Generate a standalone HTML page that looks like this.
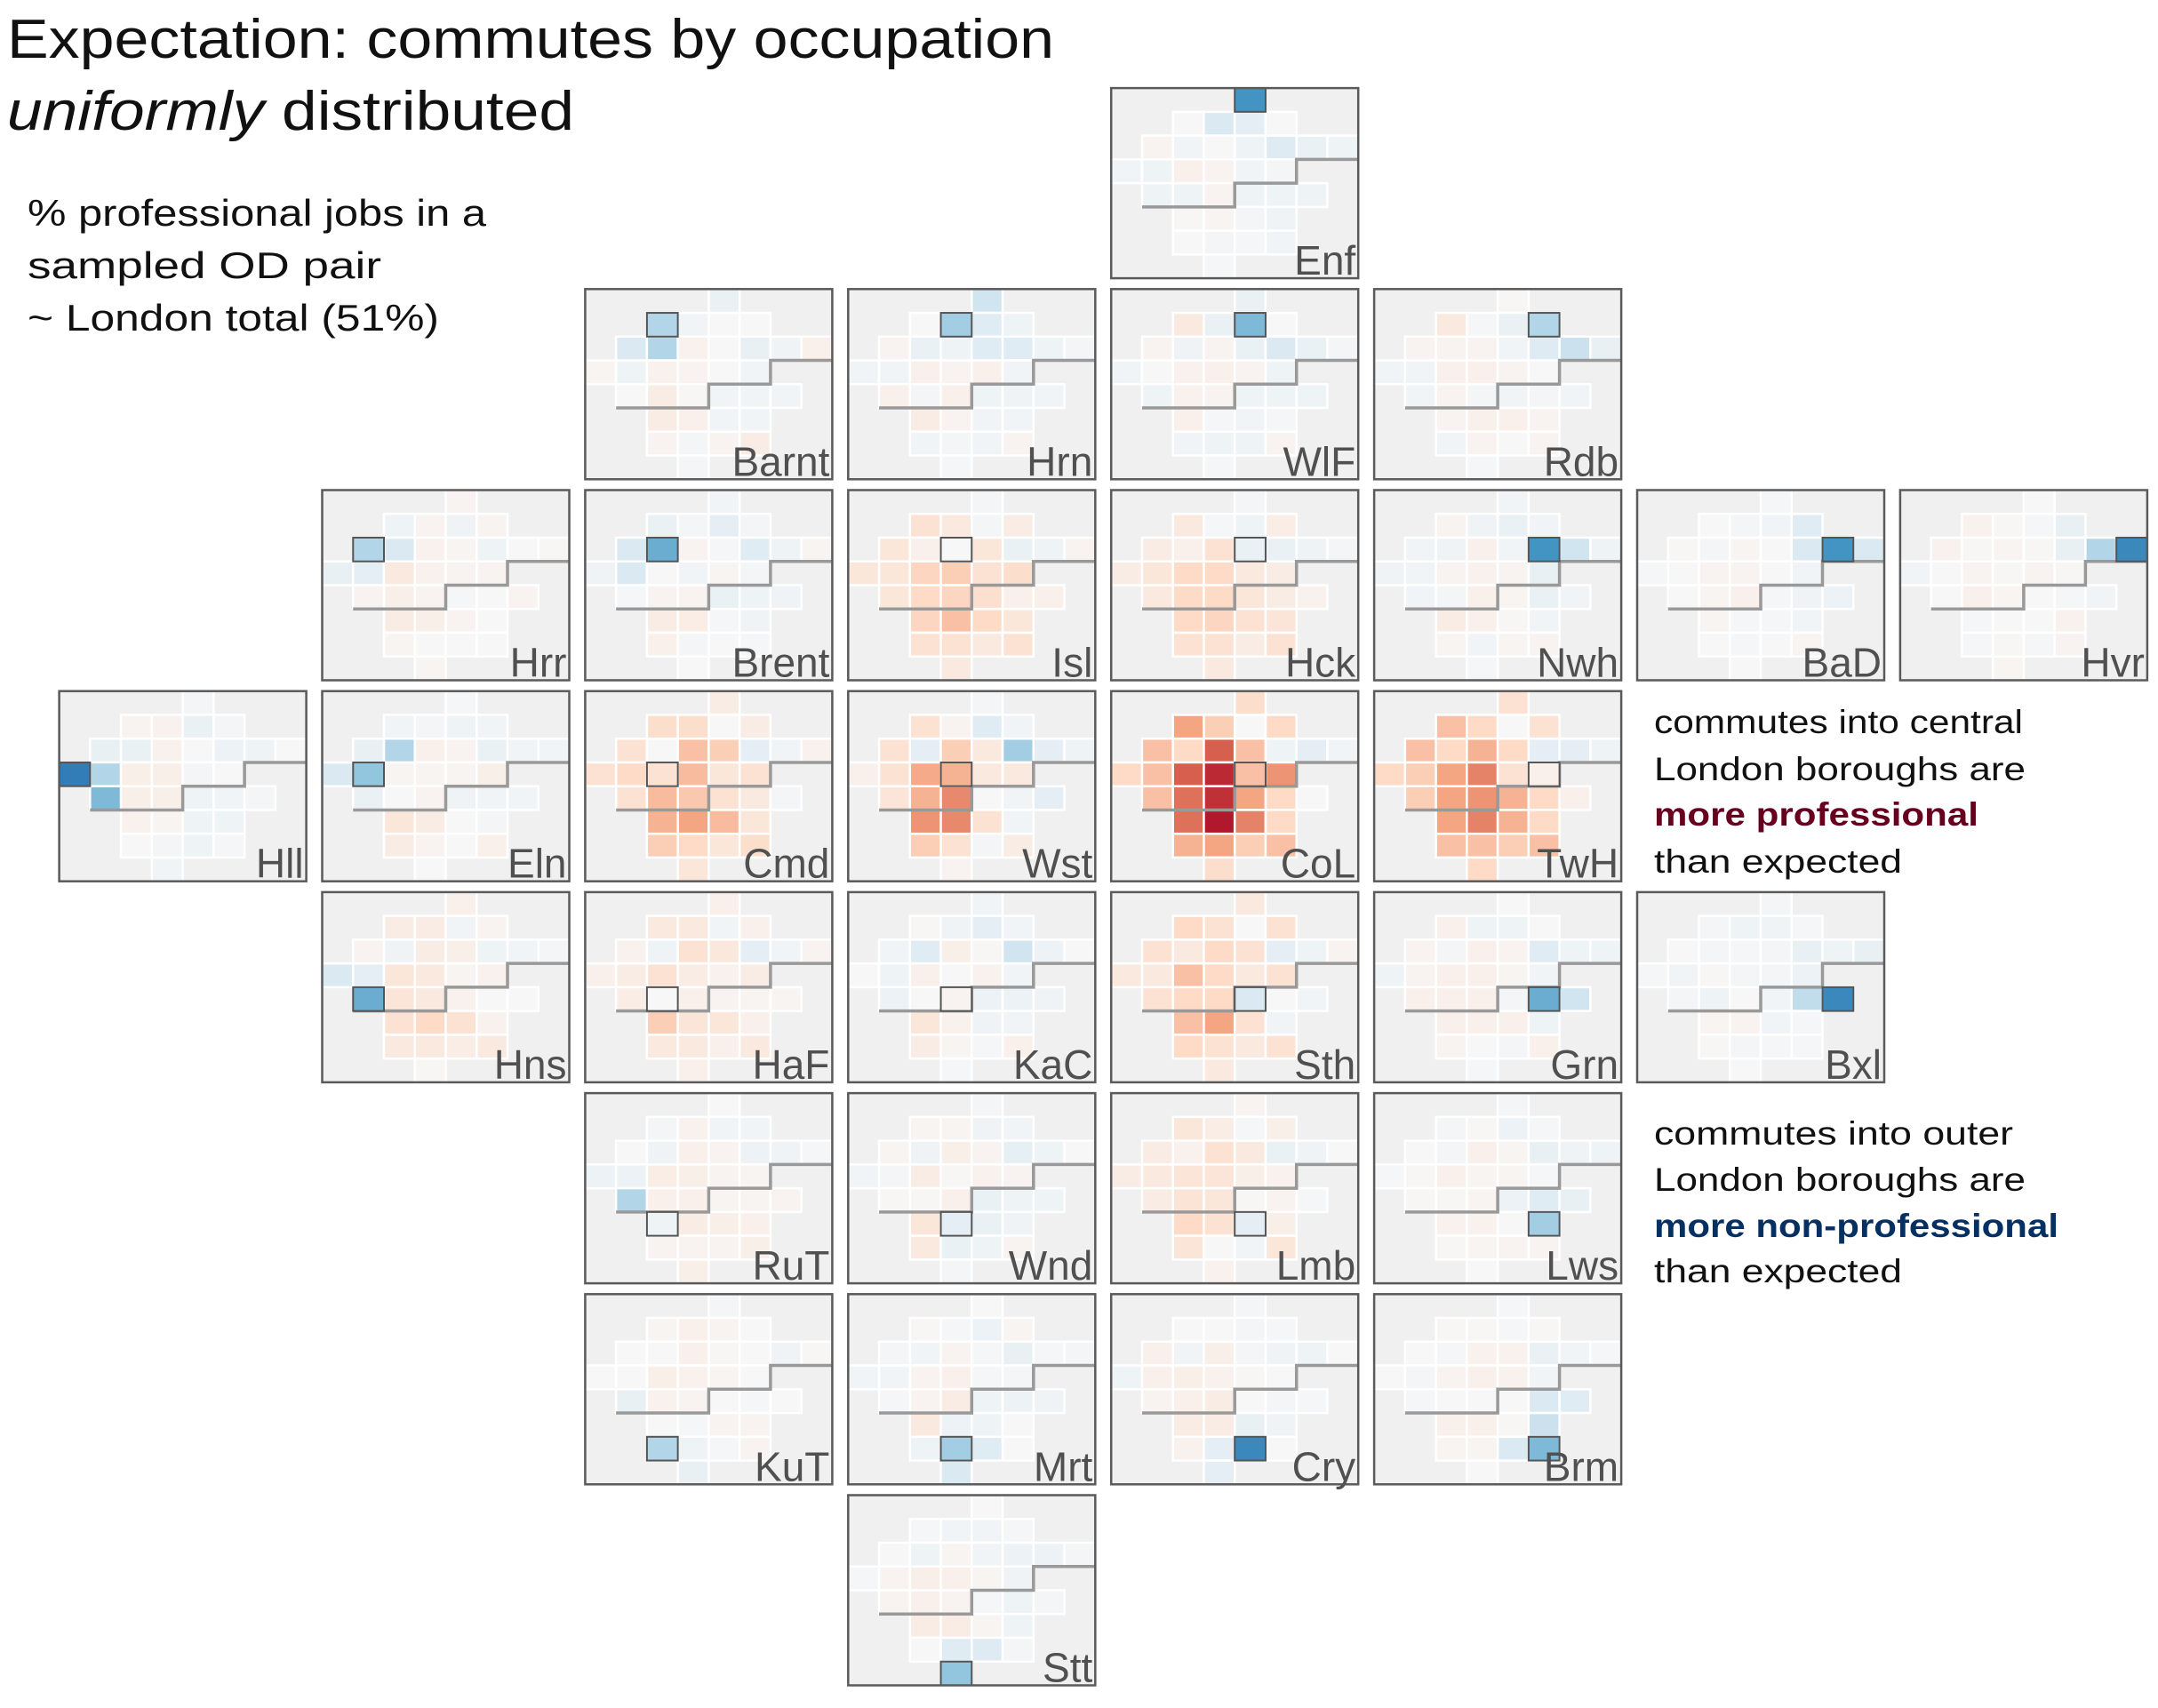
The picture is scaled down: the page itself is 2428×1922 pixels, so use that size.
<!DOCTYPE html>
<html><head><meta charset="utf-8">
<style>
html,body{margin:0;padding:0;background:#fff;}
svg{display:block;font-family:"Liberation Sans",sans-serif;}
</style></head>
<body>
<svg id="chart" width="2428" height="1922" viewBox="0 0 2428 1922" xmlns="http://www.w3.org/2000/svg">
<rect width="2428" height="1922" fill="#fff"/>
<text x="8" y="65" font-size="62" fill="#111" textLength="1178" lengthAdjust="spacingAndGlyphs">Expectation: commutes by occupation</text>
<text x="8" y="146" font-size="62" fill="#111" textLength="638" lengthAdjust="spacingAndGlyphs"><tspan font-style="italic">uniformly</tspan> distributed</text>
<text x="31" y="254" font-size="42" fill="#111" textLength="516" lengthAdjust="spacingAndGlyphs">% professional jobs in a</text>
<text x="31" y="313" font-size="42" fill="#111" textLength="398" lengthAdjust="spacingAndGlyphs">sampled OD pair</text>
<text x="31" y="372" font-size="42" fill="#111" textLength="463" lengthAdjust="spacingAndGlyphs">~ London total (51%)</text>
<g font-size="37">
<text x="1861" y="825" fill="#111" textLength="415" lengthAdjust="spacingAndGlyphs">commutes into central</text>
<text x="1861" y="878" fill="#111" textLength="418" lengthAdjust="spacingAndGlyphs">London boroughs are</text>
<text x="1861" y="929" fill="#67001f" font-weight="bold" textLength="365" lengthAdjust="spacingAndGlyphs">more professional</text>
<text x="1861" y="982" fill="#111" textLength="279" lengthAdjust="spacingAndGlyphs">than expected</text>
</g>
<g font-size="37">
<text x="1861" y="1288" fill="#111" textLength="404" lengthAdjust="spacingAndGlyphs">commutes into outer</text>
<text x="1861" y="1340" fill="#111" textLength="418" lengthAdjust="spacingAndGlyphs">London boroughs are</text>
<text x="1861" y="1392" fill="#053061" font-weight="bold" textLength="455" lengthAdjust="spacingAndGlyphs">more non-professional</text>
<text x="1861" y="1443" fill="#111" textLength="279" lengthAdjust="spacingAndGlyphs">than expected</text>
</g>
<g id="panels"></g>
</svg>
<script>
// Borough order and grid layout
const boroughs = ["Enf","Barnt","Hrn","WlF","Rdb","Hrr","Brent","Isl","Hck","Nwh","BaD","Hvr","Hll","Eln","Cmd","Wst","CoL","TwH","Hns","HaF","KaC","Sth","Grn","Bxl","RuT","Wnd","Lmb","Lws","KuT","Mrt","Cry","Brm","Stt"];
const gridCol = [4,2,3,4,5,1,2,3,4,5,6,7,0,1,2,3,4,5,1,2,3,4,5,6,2,3,4,5,2,3,4,5,3];
const gridRow = [0,1,1,1,1,2,2,2,2,2,2,2,3,3,3,3,3,3,4,4,4,4,4,4,5,5,5,5,6,6,6,6,7];
// Values per destination panel (deviation from London total; + = more professional)
const vEnf  =[-6,0,-1.5,-1,0,0.3,-0.3,0,-0.5,-1.3,-0.7,-0.5,-0.3,-0.5,0.5,0.3,-0.3,-0.2,-0.5,-0.5,0.3,-0.5,-0.5,-0.5,0.1,0.2,-0.2,-0.4,0,-0.2,-0.1,-0.3,-0.1];
const vBarnt=[-0.7,-3,-0.3,0,0,-1.5,-3,0.4,0,-0.8,-0.4,0.5,0.2,-0.5,0.4,0.3,0,-0.3,0,0.8,0.1,-0.3,-0.3,-0.3,0.8,0.5,-0.3,-0.3,0.3,-0.2,0.3,0.8,-0.2];
const vHrn  =[-2,0,-3.5,-1.2,-0.5,0.3,-0.7,-0.5,-1.2,-1.2,-0.5,-0.2,-0.3,-0.3,0.5,0.3,0.5,-0.3,0.5,-0.2,0.5,-0.5,-0.4,-0.3,0.8,0.3,-0.3,-0.3,-0.3,-0.2,-0.3,0.3,-0.1];
const vWlF  =[-0.7,1,-0.7,-4.5,0,0.3,-0.4,0.3,-0.7,-1.5,-0.7,-0.2,-0.3,0,0.4,0.5,0.3,-0.5,-0.5,0.4,0.3,-0.5,-0.5,-0.5,0.5,-0.1,-0.3,-0.1,-0.3,-0.5,-0.5,0.3,-0.1];
const vRdb  =[0.1,1,-0.1,-0.7,-3,0.3,0.3,0.3,-0.3,-1.3,-2.2,-0.8,-0.3,-0.3,0.5,0.5,0.3,0,-0.3,0.3,-0.2,-0.3,-0.2,-0.3,0.3,0.5,0.5,0.3,-0.3,0.3,0,0.3,-0.1];
const vHrr  =[0.3,-0.5,0.3,-0.4,0.3,-3,-1.5,0.4,0.2,-0.5,0,0.1,-0.8,-1,1,0.4,0.3,0.3,0.3,0.6,0.3,-0.1,0,0.3,0.8,0.6,0.3,0,0.2,0,0,0,0.2];
const vBrent=[-0.3,-0.7,-0.2,-1,-0.2,-1.5,-5,0.3,-0.1,-1.2,-0.5,0.2,-0.4,-1.5,0,-0.3,0.2,-0.2,-0.1,0.3,0.3,-0.7,-0.5,-0.4,0.8,0.7,-0.1,-0.4,0.5,-0.2,0,-0.1,0];
const vIsl  =[-0.2,1.5,1,-0.2,0.8,1.2,0.5,0,1.2,-0.7,-0.5,0.3,1.2,1.2,2.2,2.5,1.5,1.8,1.2,2,2.2,1.7,0.5,0.5,2.2,3,2,1.2,1.5,1.5,1,1.5,1];
const vHck  =[-0.2,1,-0.1,-0.5,0.7,0.8,0.5,1.5,-0.7,-0.7,-0.5,-0.2,0.8,1.2,2,2,1,0.8,1,2,2,1.2,0.8,0.4,2,2.2,1.5,1.3,1.5,1.5,0.8,1.5,1];
const vNwh  =[-0.3,0.3,-0.4,-0.7,-0.3,-0.3,-0.4,0.5,-0.3,-6,-2,-0.5,-0.4,-0.3,0.3,0.4,0.3,-0.8,-0.3,-0.2,0.5,0.2,-0.7,-0.3,0.8,0.5,0.1,-0.3,0.2,-0.3,0.2,0.3,-0.1];
const vBaD  =[-0.1,0,-0.2,-0.3,-1.2,0.1,-0.2,0.2,0,-1.5,-6,-1.5,-0.1,0,0.3,0.3,0,-0.3,0,0.2,0.5,-0.1,-0.4,-0.6,0.2,-0.1,-0.1,-0.3,0,-0.1,0,0.2,0];
const vHvr  =[0,0.4,0.1,-0.1,-0.8,0.4,0.1,0.2,0.1,-0.8,-3,-6.5,-0.3,0,0.3,0.1,0.3,0.1,0,0.5,0.2,0,-0.1,-0.3,-0.1,0,0,0.4,-0.1,0.1,-0.1,0.3,0.2];
const vHll  =[-0.2,0.3,0.4,-0.7,-0.2,-0.8,-0.7,0.4,0,-0.6,-0.5,0,-7,-3,0.6,0.6,-0.2,0,-4.5,0.6,0.6,-0.5,-0.3,-0.2,0.4,0.2,-0.5,-0.5,0,-0.2,-0.5,-0.1,-0.3];
const vEln  =[-0.1,-0.3,-0.2,-0.5,-0.3,-0.8,-3,0.5,0.3,-0.7,-0.3,-0.3,-1.5,-4,0.2,0.2,0.2,0.6,-0.7,0,0.3,-0.4,-0.3,-0.3,1.2,0.8,0,-0.2,0.8,0.3,0,0.5,0];
const vCmd  =[0.8,1.8,1.8,0,0.8,1.5,0,3,2.5,-1,-0.3,0.4,1.5,2,1.5,3.2,1.2,1.5,1.5,3.2,2.7,1.5,1,-0.2,3.5,4,3.2,1.2,2.5,2,1.2,1.8,1.2];
const vWst  =[-0.2,1.5,0.3,-1.2,-0.3,1.5,-1,2.5,1,-3.5,-1,-0.5,0.5,1.5,3.8,3.5,1,1,1.3,3.5,4.8,0,-0.3,-1,4.5,4.8,1.5,-0.3,2.5,1.5,-0.2,0.8,0.3];
const vCoL  =[1.8,4,2.5,0,2,3,2,6,3,-0.5,-1,-0.3,2,3,6,7.5,3,4.5,3,5.5,7.3,4,2,0,5.5,8,5,2,3.5,4,2.5,3,1.8];
const vTwH  =[1.5,3,2,0,1.5,3,2,3.5,2,-1,-1,-0.5,2,2.5,4,5,1.5,0.5,2.5,4,4.5,3.5,2,0.5,4,5,3.5,2,3,3,2.5,3,2];
const vHns  =[0.5,0.8,0.8,-0.3,0.3,0.3,-0.4,0.8,0.6,-0.5,-0.3,-0.2,-1.5,-1,1.2,1,0.2,0.4,-5,1.3,1,0.4,0,0,1.5,2,1.5,0.4,1,1,0.7,1,0.1];
const vHaF  =[0.5,1,1,-0.3,0.5,0.4,-0.5,1.5,1.1,-1,-0.3,0.3,0.5,0.8,1.5,0.8,0.4,0.8,0.7,0,0.5,0.3,0.2,0.2,2.5,1.3,1.2,0.5,1,1,0.5,1,0.5];
const vKaC  =[-0.3,0.1,-0.4,-1,-0.3,-0.3,-1.2,0.6,0.1,-2,-0.6,0,0,-0.5,0.5,0,0.4,-0.3,-0.6,0,0.3,-0.6,-0.6,-0.4,1.2,0.4,-0.4,-0.3,0.8,0.2,-0.1,0.5,-0.1];
const vSth  =[1,2,1.5,0,1.5,1.5,1,2,1.5,-1,-0.5,0.3,1,1,3,2,1,1.5,1.5,2,2,-1.5,0,-0.3,3,4,1.5,-0.3,2,1.5,1,1.5,1];
const vGrn  =[0,0.5,-0.5,-0.5,0,0.3,-0.2,0.5,0.3,-1.2,-0.5,-0.5,-0.5,0.3,0.5,0.5,0.2,-0.3,0.5,0.5,0.5,-0.2,-5,-2,0.5,0.5,0.5,-0.5,0.3,0,-0.2,0.5,-0.1];
const vBxl  =[-0.2,-0.2,-0.5,-0.4,-0.1,0,-0.2,-0.1,-0.2,-0.8,-0.5,-0.8,-0.1,-0.3,0.1,-0.2,-0.2,-0.6,-0.2,-0.5,0,-0.3,-2.5,-6.5,0.2,0.3,-0.3,-0.1,0.1,-0.2,-0.1,-0.1,0];
const vRuT  =[0,-0.2,0.4,-0.3,-0.3,0,-0.4,0.5,0.3,-0.6,-0.4,-0.1,-0.6,-0.6,0.7,0.6,0.3,0.2,-3,0.5,0.5,0.2,0.2,0.3,-0.5,0.8,0.6,0.5,0.3,0.3,0.3,0.6,0.6];
const vWnd  =[-0.2,0.2,0.2,-0.4,-0.3,0.2,-0.4,0.6,0.3,-0.9,-0.5,0,-0.3,-0.2,0.8,0.1,0.4,0.3,0.1,0.1,0.5,-0.7,-0.5,-0.5,1.2,-1,-0.7,-0.4,1,-0.7,-0.5,0.3,-0.2];
const vLmb  =[0.3,1.2,0.7,-0.1,0.6,0.8,0.4,1.5,1,-0.7,-0.4,0,0.8,1,1.3,1.3,0.6,0.4,0.8,1.4,1.2,0.1,0.3,-0.1,2,1.5,-1,0.6,1.3,0,-0.3,1.2,0.4];
const vLws  =[-0.2,-0.2,0.1,-0.6,-0.1,0,-0.2,0.5,0.2,-0.8,-0.4,-0.5,-0.1,0.1,0.5,0.2,0.2,-0.1,0.1,0.1,0.2,-0.6,-1.2,-0.8,0.4,0.4,0,-3.5,0.1,0.2,0.3,0.3,0];
const vKuT  =[-0.2,0.2,0.5,0.3,0,0,0,0.5,0.1,0,-0.4,0.1,0,0,0.6,0.4,0.2,0,-0.8,0.4,0.3,0,-0.1,0,0,-0.1,0.3,0.3,-3,-0.5,-0.1,0.3,-0.8];
const vMrt  =[0,0.1,-0.1,-0.6,0.2,-0.2,-0.3,0.3,-0.1,-0.8,-0.1,-0.2,-0.3,-0.3,0.3,0.5,-0.1,-0.2,-0.1,0.3,0.8,-0.5,-0.6,-0.4,1,-0.6,-0.5,0,-0.5,-3.5,-1.2,0,-1.5];
const vCry  =[-0.2,0,0,-0.2,-0.1,0.5,-0.3,0.6,-0.2,-0.4,-0.5,0,-0.5,0.5,0.6,0.4,0.1,0,0.3,0.5,0.8,0,-0.2,-0.1,0.8,0.8,-0.8,-0.4,0.4,-1,-6.5,0,-1];
const vBrm  =[-0.1,0.1,0.1,-0.1,0.1,0,-0.1,0.4,0.4,-0.7,-0.3,-0.1,0,-0.2,0.3,0.5,0.4,-0.3,-0.1,0,0,0,-1.5,-1.2,0.5,0.5,0.1,-2.2,0.2,0.2,-1.5,-4.5,0];
const vStt  =[0,-0.1,-0.3,-0.3,-0.1,0,-0.5,0.2,-0.3,-0.6,-0.6,-0.2,-0.1,0.3,0.6,0.5,0.2,-0.4,0.3,0.5,0.3,-0.1,-0.5,-0.2,0.8,0.8,0.2,-0.5,0,-1.2,-1.3,-0.2,-4];
const panelValues = [vEnf,vBarnt,vHrn,vWlF,vRdb,vHrr,vBrent,vIsl,vHck,vNwh,vBaD,vHvr,vHll,vEln,vCmd,vWst,vCoL,vTwH,vHns,vHaF,vKaC,vSth,vGrn,vBxl,vRuT,vWnd,vLmb,vLws,vKuT,vMrt,vCry,vBrm,vStt];

const NS = "http://www.w3.org/2000/svg";
const PX0 = 66.6, PY0 = 99.1, PDX = 295.9, PDY = 226.2, PW = 278, PH = 214;
const CW = PW / 8, CH = PH / 8;
const stops = [[-10,[5,48,97]],[-8,[33,102,172]],[-6,[67,147,195]],[-4,[146,197,222]],[-2,[209,229,240]],[0,[247,247,247]],[2,[253,219,199]],[4,[244,165,130]],[6,[214,96,77]],[8,[178,24,43]],[10,[103,0,31]]];
function colorScale(v){
  v = Math.max(-10, Math.min(10, v));
  for (let i = 0; i < stops.length - 1; i++) {
    const a = stops[i], b = stops[i+1];
    if (v >= a[0] && v <= b[0]) {
      const t = (v - a[0]) / (b[0] - a[0]);
      const c = a[1].map((x, k) => Math.round(x + (b[1][k] - x) * t));
      return "rgb(" + c.join(",") + ")";
    }
  }
  return "#f7f7f7";
}
function xCell(px, col){ return px + col * CW; }
function yCell(py, row){ return py + row * CH; }
function mk(tag, attrs){ const e = document.createElementNS(NS, tag); for (const k in attrs) e.setAttribute(k, attrs[k]); return e; }

const root = document.getElementById("panels");
boroughs.forEach((name, p) => {
  const px = PX0 + gridCol[p] * PDX, py = PY0 + gridRow[p] * PDY;
  const g = mk("g", {});
  
  
  const bg = mk("rect", {x: px, y: py, width: PW, height: PH, fill: "#f0f0f0"});
  
  
  g.appendChild(bg);
  const vals = panelValues[p];
  boroughs.forEach((o, i) => {
    const r = mk("rect", {x: xCell(px, gridCol[i]), y: yCell(py, gridRow[i]), width: CW, height: CH, fill: colorScale(vals[i]), stroke: "#fff", "stroke-width": 2.5});
    
    
    g.appendChild(r);
  });
  const river = mk("polyline", {points: [[1,5],[4,5],[4,4],[6,4],[6,3],[8,3]].map(q => xCell(px,q[0]) + "," + yCell(py,q[1])).join(" "), fill: "none", stroke: "#999", "stroke-width": 3.5});
  
  
  g.appendChild(river);
  const hl = mk("rect", {x: xCell(px, gridCol[p]), y: yCell(py, gridRow[p]), width: CW, height: CH, fill: colorScale(vals[p]), stroke: "#555", "stroke-width": 2});
  
  
  g.appendChild(hl);
  const border = mk("rect", {x: px, y: py, width: PW, height: PH, fill: "none", stroke: "#5a5a5a", "stroke-width": 2.5});
  
  
  g.appendChild(border);
  const lab = mk("text", {x: px + PW - 3, y: py + PH - 4, "text-anchor": "end", "font-size": 46, fill: "#505050"});
  lab.textContent = name;
  
  
  g.appendChild(lab);
  root.appendChild(g);
});
</script>
</body></html>
